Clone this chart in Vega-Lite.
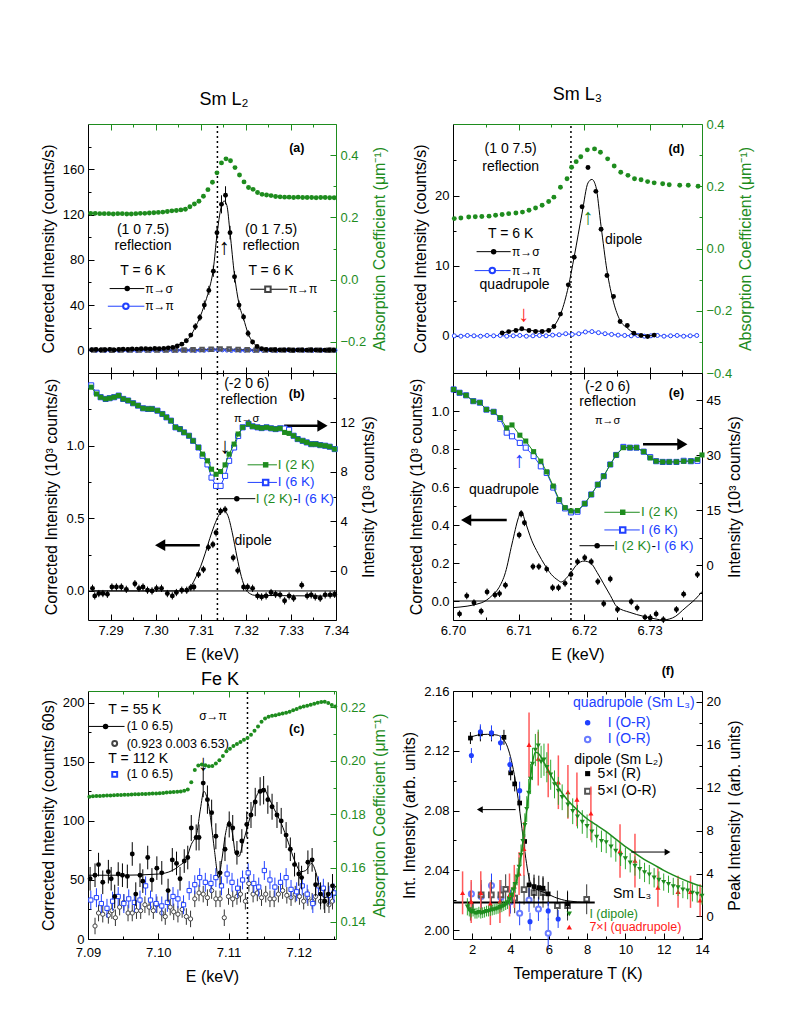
{
"$schema": "https://vega.github.io/schema/vega-lite/v6.json",
"background": "white",
"padding": {"left": 40, "top": 86, "right": 5, "bottom": 5},
"columns": 2,
"spacing": {"row": 0, "column": 117},
"bounds": "flush",
"align": "each",
"config": {
 "view": {"stroke": null},
 "font": "Liberation Sans",
 "point": {"opacity": 1},
 "title": {"font": "Liberation Sans", "fontSize": 18, "fontWeight": "normal", "color": "black"},
 "text": {"font": "Liberation Sans"},
 "axis": {"grid": false, "labelFont": "Liberation Sans", "labelFontSize": 13, "titleFont": "Liberation Sans", "titleFontSize": 16, "titleFontWeight": "normal", "domainColor": "black", "tickColor": "black", "labelColor": "black", "titleColor": "black", "labelPadding": 10, "labelFlush": false, "labelOverlap": false, "titlePadding": 6}
},
"concat": [
{
 "width": 248, "height": 249,
 "title": {"text": "Sm L₂", "offset": 14, "dx": 12},
 "resolve": {"scale": {"y": "independent"}, "axis": {"x": "independent", "y": "independent"}},
 "layer": [
  {
   "encoding": {
    "x": {"field": "x", "type": "quantitative", "scale": {"domain": [7.285, 7.34], "nice": false}, "axis": {"orient": "bottom", "values": [7.29,7.295,7.3,7.305,7.31,7.315,7.32,7.325,7.33,7.335,7.34], "labels": false, "title": null, "tickSize": {"condition": {"test": "abs(datum.value/0.01 - round(datum.value/0.01)) < 0.001", "value": -6}, "value": -3}}},
    "y": {"field": "y", "type": "quantitative", "scale": {"domain": [-20, 200], "nice": false}, "axis": {"orient": "left", "values": [0,20,40,60,80,100,120,140,160,180], "title": "Corrected Intensity (counts/s)", "labelExpr": "abs(datum.value/40 - round(datum.value/40)) < 0.001 ? datum.label : ''", "tickSize": {"condition": {"test": "abs(datum.value/40 - round(datum.value/40)) < 0.001", "value": -6}, "value": -3}}}
   },
   "layer": [
    {"data": {"values": [{"x": 7.3137, "y": -20, "y2": 200}]}, "mark": {"type": "rule", "color": "black", "strokeDash": [2, 3], "strokeWidth": 1.5}, "encoding": {"y2": {"field": "y2"}}},
    {"data": {"values": [{"x":7.2858,"y":0.3},{"x":7.2868,"y":-0.2},{"x":7.2878,"y":0.1},{"x":7.2888,"y":-0.3},{"x":7.2898,"y":0.2},{"x":7.2908,"y":0},{"x":7.2918,"y":-0.2},{"x":7.2928,"y":0.3},{"x":7.2938,"y":-0.1},{"x":7.2948,"y":0.2},{"x":7.2958,"y":-0.3},{"x":7.2968,"y":0.1},{"x":7.2978,"y":0},{"x":7.2988,"y":-0.2},{"x":7.2998,"y":0.2},{"x":7.3008,"y":0.1},{"x":7.3018,"y":-0.1},{"x":7.3028,"y":0.3},{"x":7.3038,"y":-0.2},{"x":7.3048,"y":0},{"x":7.3058,"y":0.2},{"x":7.3068,"y":-0.1},{"x":7.3078,"y":0.1},{"x":7.3088,"y":-0.3},{"x":7.3098,"y":0.2},{"x":7.3108,"y":0},{"x":7.3118,"y":0.4},{"x":7.3128,"y":0.6},{"x":7.3138,"y":0.5},{"x":7.3148,"y":0.3},{"x":7.3158,"y":0.1},{"x":7.3168,"y":-0.2},{"x":7.3178,"y":0.2},{"x":7.3188,"y":-0.1},{"x":7.3198,"y":0},{"x":7.3208,"y":0.3},{"x":7.3218,"y":-0.2},{"x":7.3228,"y":0.1},{"x":7.3238,"y":-0.1},{"x":7.3248,"y":0.2},{"x":7.3258,"y":0},{"x":7.3268,"y":-0.3},{"x":7.3278,"y":0.2},{"x":7.3288,"y":0.1},{"x":7.3298,"y":-0.2},{"x":7.3308,"y":0},{"x":7.3318,"y":0.3},{"x":7.3328,"y":-0.1},{"x":7.3338,"y":0.1},{"x":7.3348,"y":-0.2},{"x":7.3358,"y":0.2},{"x":7.3368,"y":0},{"x":7.3378,"y":-0.1},{"x":7.3388,"y":0.1},{"x":7.3398,"y":0}]}, "layer": [
      {"mark": {"type": "line", "color": "#2040ff", "strokeWidth": 1}},
      {"mark": {"type": "point", "shape": "circle", "color": "#2040ff", "size": 14, "strokeWidth": 1}}
    ]},
    {"data": {"values": [{"x":7.2863,"y":0.2},{"x":7.2883,"y":0.3},{"x":7.2903,"y":0.1},{"x":7.2923,"y":0.2},{"x":7.2943,"y":0.3},{"x":7.2963,"y":0.2},{"x":7.2983,"y":0.4},{"x":7.3003,"y":0.3},{"x":7.3023,"y":0.2},{"x":7.3043,"y":0.3},{"x":7.3063,"y":0.4},{"x":7.3083,"y":0.5},{"x":7.3103,"y":0.7},{"x":7.3123,"y":1.0},{"x":7.3143,"y":1.3},{"x":7.3163,"y":1.2},{"x":7.3183,"y":0.8},{"x":7.3203,"y":0.5},{"x":7.3223,"y":0.3},{"x":7.3243,"y":0.2},{"x":7.3263,"y":0.3},{"x":7.3283,"y":0.2},{"x":7.3303,"y":0.1},{"x":7.3323,"y":0.2},{"x":7.3343,"y":0.3},{"x":7.3363,"y":0.2},{"x":7.3383,"y":0.1},{"x":7.3393,"y":0.2}]}, "layer": [
      {"mark": {"type": "line", "color": "#333333", "strokeWidth": 0.8}},
      {"mark": {"type": "point", "shape": "square", "color": "#555555", "size": 12}}
    ]},
    {"data": {"values": [{"x":7.2858,"y":0.5,"e":1},{"x":7.2868,"y":0.8,"e":1},{"x":7.2878,"y":0.3,"e":1},{"x":7.2888,"y":0.6,"e":1},{"x":7.2898,"y":0.9,"e":1},{"x":7.2908,"y":0.4,"e":1},{"x":7.2918,"y":0.7,"e":1},{"x":7.2928,"y":1.0,"e":1},{"x":7.2938,"y":0.8,"e":1},{"x":7.2948,"y":1.2,"e":1},{"x":7.2958,"y":1.1,"e":1},{"x":7.2968,"y":1.4,"e":1},{"x":7.2978,"y":1.5,"e":1},{"x":7.2988,"y":1.3,"e":1},{"x":7.2998,"y":1.6,"e":1},{"x":7.3008,"y":1.4,"e":1},{"x":7.3018,"y":1.8,"e":1},{"x":7.3028,"y":2.2,"e":1},{"x":7.3038,"y":2.6,"e":1.2},{"x":7.3048,"y":3.8,"e":1.5},{"x":7.3058,"y":5.5,"e":1.5},{"x":7.3068,"y":8.5,"e":2},{"x":7.3078,"y":13.5,"e":2},{"x":7.3088,"y":21,"e":3},{"x":7.3098,"y":29,"e":3},{"x":7.3108,"y":40,"e":4},{"x":7.3118,"y":53,"e":4},{"x":7.3128,"y":70,"e":5},{"x":7.3136,"y":104,"e":6},{"x":7.3146,"y":129,"e":8},{"x":7.3155,"y":137,"e":8},{"x":7.3165,"y":104,"e":6},{"x":7.3175,"y":65,"e":5},{"x":7.3185,"y":40,"e":4},{"x":7.3195,"y":29.5,"e":3},{"x":7.3205,"y":15,"e":3},{"x":7.3215,"y":7.4,"e":2},{"x":7.3225,"y":3.5,"e":1.5},{"x":7.3235,"y":1.5,"e":1},{"x":7.3245,"y":0.8,"e":1},{"x":7.3255,"y":0.5,"e":1},{"x":7.3265,"y":0.6,"e":1},{"x":7.3275,"y":0.3,"e":1},{"x":7.3285,"y":0.4,"e":1},{"x":7.3295,"y":0.5,"e":1},{"x":7.3305,"y":0.2,"e":1},{"x":7.3315,"y":0.3,"e":1},{"x":7.3325,"y":0.4,"e":1},{"x":7.3335,"y":0.2,"e":1},{"x":7.3345,"y":0.3,"e":1},{"x":7.3355,"y":0.3,"e":1},{"x":7.3365,"y":0.2,"e":1},{"x":7.3375,"y":0.2,"e":1},{"x":7.3385,"y":0.3,"e":1},{"x":7.3395,"y":0.2,"e":1}]}, "layer": [
      {"mark": {"type": "errorbar", "color": "black"}, "encoding": {"yError": {"field": "e"}}},
      {"mark": {"type": "point", "shape": "circle", "filled": true, "color": "black", "size": 24}}
    ]},
    {"data": {"values": [{"x":7.2858,"y":0.3},{"x":7.300,"y":1.2},{"x":7.302,"y":1.9},{"x":7.304,"y":3.3},{"x":7.3055,"y":5.5},{"x":7.3068,"y":8.5},{"x":7.3078,"y":13},{"x":7.3088,"y":20.5},{"x":7.3098,"y":29},{"x":7.3108,"y":40},{"x":7.3118,"y":53},{"x":7.3128,"y":72},{"x":7.3136,"y":102},{"x":7.3145,"y":126},{"x":7.3152,"y":132},{"x":7.3158,"y":128},{"x":7.3165,"y":104},{"x":7.3175,"y":66},{"x":7.3185,"y":41},{"x":7.3195,"y":28},{"x":7.3205,"y":15},{"x":7.3215,"y":7.4},{"x":7.3225,"y":3.5},{"x":7.3235,"y":1.5},{"x":7.325,"y":0.6},{"x":7.34,"y":0.2}]}, "mark": {"type": "line", "color": "black", "strokeWidth": 1, "interpolate": "monotone"}},
    {"data": {"values": [{"x":7.2898,"x2":7.2975,"y":54.6},{"x":7.3210,"x2":7.3293,"y":54}]}, "mark": {"type": "rule", "color": "black"}, "encoding": {"x2": {"field": "x2"}}},
    {"data": {"values": [{"x":7.2894,"x2":7.2975,"y":39}]}, "mark": {"type": "rule", "color": "#2040ff"}, "encoding": {"x2": {"field": "x2"}}},
    {"data": {"values": [{"x":7.2937,"y":54.6}]}, "mark": {"type": "point", "shape": "circle", "filled": true, "color": "black", "size": 30}},
    {"data": {"values": [{"x":7.2934,"y":39}]}, "mark": {"type": "point", "shape": "circle", "filled": true, "fill": "white", "stroke": "#2040ff", "size": 30}},
    {"data": {"values": [{"x":7.3249,"y":54}]}, "mark": {"type": "point", "shape": "square", "filled": true, "fill": "white", "stroke": "#444444", "size": 30}},
    {"data": {"values": [{"x":7.2972,"y":106,"t":"(1 0 7.5)"},{"x":7.2972,"y":92,"t":"reflection"},{"x":7.2972,"y":70,"t":"T = 6 K"},{"x":7.3256,"y":106,"t":"(0 1 7.5)"},{"x":7.3256,"y":92,"t":"reflection"},{"x":7.3256,"y":70,"t":"T = 6 K"}]}, "mark": {"type": "text", "fontSize": 14, "align": "center", "baseline": "middle", "color": "black"}, "encoding": {"text": {"field": "t"}}},
    {"data": {"values": [{"x":7.2977,"y":54.6,"t":"π→σ"},{"x":7.2977,"y":39,"t":"π→π"},{"x":7.3295,"y":54,"t":"π→π"}]}, "mark": {"type": "text", "fontSize": 12, "align": "left", "baseline": "middle", "color": "black"}, "encoding": {"text": {"field": "t"}}},
    {"data": {"values": [{"x":7.3313,"y":179,"t":"(a)"}]}, "mark": {"type": "text", "fontSize": 12.5, "fontWeight": "bold", "align": "center", "baseline": "middle", "color": "black"}, "encoding": {"text": {"field": "t"}}},
    {"data": {"values": [{"x":7.3152,"y":91,"t":"↑"}]}, "mark": {"type": "text", "fontSize": 22, "align": "center", "baseline": "middle", "color": "black"}, "encoding": {"text": {"field": "t"}}}
   ]
  },
  {
   "encoding": {
    "x": {"field": "x", "type": "quantitative", "scale": {"domain": [7.285, 7.34], "nice": false}, "axis": {"orient": "top", "values": [7.29,7.295,7.3,7.305,7.31,7.315,7.32,7.325,7.33,7.335,7.34], "labels": false, "title": null, "domainColor": "#1e8c1e", "tickColor": "#1e8c1e", "tickSize": {"condition": {"test": "abs(datum.value/0.01 - round(datum.value/0.01)) < 0.001", "value": -6}, "value": -3}}},
    "y": {"field": "y", "type": "quantitative", "scale": {"domain": [-0.3, 0.5], "nice": false}, "axis": {"orient": "right", "values": [-0.2,-0.1,0,0.1,0.2,0.3,0.4], "format": ".1f", "title": "Absorption Coefficient (μm⁻¹)", "titleAngle": -90, "titleBaseline": "top", "labelExpr": "abs(datum.value/0.2 - round(datum.value/0.2)) < 0.001 ? datum.label : ''", "tickSize": {"condition": {"test": "abs(datum.value/0.2 - round(datum.value/0.2)) < 0.001", "value": -6}, "value": -3}, "domainColor": "#1e8c1e", "tickColor": "#1e8c1e", "labelColor": "#1e8c1e", "titleColor": "#1e8c1e"}}
   },
   "layer": [
    {"data": {"values": [{"x":7.2856,"y":0.213},{"x":7.2866,"y":0.213},{"x":7.2876,"y":0.212},{"x":7.2886,"y":0.212},{"x":7.2896,"y":0.212},{"x":7.2906,"y":0.211},{"x":7.2916,"y":0.212},{"x":7.2926,"y":0.212},{"x":7.2936,"y":0.211},{"x":7.2946,"y":0.211},{"x":7.2956,"y":0.212},{"x":7.2966,"y":0.213},{"x":7.2976,"y":0.213},{"x":7.2986,"y":0.214},{"x":7.2996,"y":0.215},{"x":7.3006,"y":0.216},{"x":7.3016,"y":0.217},{"x":7.3026,"y":0.219},{"x":7.3036,"y":0.221},{"x":7.3046,"y":0.222},{"x":7.3056,"y":0.224},{"x":7.3066,"y":0.226},{"x":7.3076,"y":0.234},{"x":7.3086,"y":0.243},{"x":7.3096,"y":0.252},{"x":7.3106,"y":0.268},{"x":7.3116,"y":0.289},{"x":7.3126,"y":0.313},{"x":7.3136,"y":0.343},{"x":7.3146,"y":0.375},{"x":7.3156,"y":0.388},{"x":7.3166,"y":0.382},{"x":7.3176,"y":0.36},{"x":7.3186,"y":0.336},{"x":7.3196,"y":0.314},{"x":7.3206,"y":0.296},{"x":7.3216,"y":0.29},{"x":7.3226,"y":0.28},{"x":7.3236,"y":0.274},{"x":7.3246,"y":0.272},{"x":7.3256,"y":0.27},{"x":7.3266,"y":0.267},{"x":7.3276,"y":0.266},{"x":7.3286,"y":0.265},{"x":7.3296,"y":0.265},{"x":7.3306,"y":0.264},{"x":7.3316,"y":0.265},{"x":7.3326,"y":0.264},{"x":7.3336,"y":0.264},{"x":7.3346,"y":0.264},{"x":7.3356,"y":0.263},{"x":7.3366,"y":0.264},{"x":7.3376,"y":0.264},{"x":7.3386,"y":0.263},{"x":7.3396,"y":0.263}]}, "mark": {"type": "point", "shape": "circle", "filled": true, "color": "#1e8c1e", "size": 24}}
   ]
  }
 ]
},
{
 "width": 249, "height": 249,
 "title": {"text": "Sm L₃", "offset": 14},
 "resolve": {"scale": {"y": "independent"}, "axis": {"x": "independent", "y": "independent"}},
 "layer": [
  {
   "encoding": {
    "x": {"field": "x", "type": "quantitative", "scale": {"domain": [6.7, 6.738], "nice": false}, "axis": {"orient": "bottom", "values": [6.705,6.71,6.715,6.72,6.725,6.73,6.735], "labels": false, "title": null, "tickSize": {"condition": {"test": "abs(datum.value/0.01 - round(datum.value/0.01)) < 0.001", "value": -6}, "value": -3}}},
    "y": {"field": "y", "type": "quantitative", "scale": {"domain": [-5.3, 30.2], "nice": false}, "axis": {"orient": "left", "values": [0,5,10,15,20,25], "title": "Corrected Intensity (counts/s)", "labelExpr": "abs(datum.value/10 - round(datum.value/10)) < 0.001 ? datum.label : ''", "tickSize": {"condition": {"test": "abs(datum.value/10 - round(datum.value/10)) < 0.001", "value": -6}, "value": -3}}}
   },
   "layer": [
    {"data": {"values": [{"x": 6.718, "y": -5.3, "y2": 30.2}]}, "mark": {"type": "rule", "color": "black", "strokeDash": [2, 3], "strokeWidth": 1.5}, "encoding": {"y2": {"field": "y2"}}},
    {"data": {"values": [{"x":6.7002,"y":0.0,"e":0.25},{"x":6.7012,"y":-0.05,"e":0.25},{"x":6.7022,"y":0.05,"e":0.25},{"x":6.7032,"y":0.0,"e":0.25},{"x":6.7042,"y":-0.05,"e":0.25},{"x":6.7052,"y":0.05,"e":0.25},{"x":6.7062,"y":0.0,"e":0.25},{"x":6.7072,"y":0.05,"e":0.25},{"x":6.7082,"y":-0.05,"e":0.25},{"x":6.7092,"y":0.0,"e":0.25},{"x":6.7102,"y":0.05,"e":0.25},{"x":6.7112,"y":-0.05,"e":0.25},{"x":6.7122,"y":0.0,"e":0.25},{"x":6.7132,"y":0.05,"e":0.25},{"x":6.7142,"y":0.0,"e":0.25},{"x":6.7152,"y":0.1,"e":0.25},{"x":6.7162,"y":0.15,"e":0.25},{"x":6.7172,"y":0.3,"e":0.25},{"x":6.7182,"y":0.2,"e":0.25},{"x":6.7192,"y":0.3,"e":0.25},{"x":6.7202,"y":0.55,"e":0.25},{"x":6.7212,"y":0.6,"e":0.25},{"x":6.7222,"y":0.45,"e":0.25},{"x":6.7232,"y":0.3,"e":0.25},{"x":6.7242,"y":0.2,"e":0.25},{"x":6.7252,"y":0.1,"e":0.25},{"x":6.7262,"y":0.05,"e":0.25},{"x":6.7272,"y":0.0,"e":0.25},{"x":6.7282,"y":0.05,"e":0.25},{"x":6.7292,"y":-0.05,"e":0.25},{"x":6.7302,"y":0.0,"e":0.25},{"x":6.7312,"y":0.05,"e":0.25},{"x":6.7322,"y":-0.05,"e":0.25},{"x":6.7332,"y":0.0,"e":0.25},{"x":6.7342,"y":0.05,"e":0.25},{"x":6.7352,"y":-0.05,"e":0.25},{"x":6.7362,"y":0.0,"e":0.25},{"x":6.7372,"y":0.05,"e":0.25}]}, "layer": [
      {"mark": {"type": "errorbar", "color": "#2040ff"}, "encoding": {"yError": {"field": "e"}}},
      {"mark": {"type": "line", "color": "#2040ff", "strokeWidth": 1}},
      {"mark": {"type": "point", "shape": "circle", "filled": true, "fill": "white", "stroke": "#2040ff", "size": 16, "strokeWidth": 1}}
    ]},
    {"data": {"values": [{"x":6.7075,"y":0.4},{"x":6.709,"y":0.7},{"x":6.7105,"y":0.9},{"x":6.712,"y":0.75},{"x":6.7135,"y":0.65},{"x":6.7146,"y":0.8},{"x":6.7155,"y":1.5},{"x":6.7165,"y":3.3},{"x":6.7176,"y":7.0},{"x":6.7185,"y":11.3},{"x":6.7197,"y":17.5},{"x":6.7206,"y":21.8},{"x":6.7212,"y":22.3},{"x":6.7218,"y":21.3},{"x":6.7226,"y":15.6},{"x":6.7235,"y":9.3},{"x":6.7245,"y":4.8},{"x":6.7255,"y":2.2},{"x":6.7266,"y":1.1},{"x":6.7276,"y":0.4},{"x":6.7287,"y":0.05},{"x":6.7307,"y":0}]}, "mark": {"type": "line", "color": "black", "strokeWidth": 1, "interpolate": "monotone"}},
    {"data": {"values": [{"x":6.7075,"y":0.4},{"x":6.7085,"y":0.6},{"x":6.7096,"y":0.76},{"x":6.7105,"y":1.0},{"x":6.7116,"y":0.76},{"x":6.7126,"y":0.62},{"x":6.7136,"y":0.62},{"x":6.7146,"y":0.76},{"x":6.7154,"y":1.33},{"x":6.7164,"y":3.1},{"x":6.7176,"y":7.27},{"x":6.7185,"y":11.2},{"x":6.7197,"y":18.4},{"x":6.7206,"y":24.0},{"x":6.7218,"y":20.6},{"x":6.7226,"y":15.2},{"x":6.7235,"y":8.6},{"x":6.7245,"y":5.6},{"x":6.7255,"y":2.04},{"x":6.7266,"y":1.47},{"x":6.7276,"y":0.38},{"x":6.7287,"y":0.05},{"x":6.7297,"y":-0.1},{"x":6.7307,"y":0.1}]}, "mark": {"type": "point", "shape": "circle", "filled": true, "color": "black", "size": 24}},
    {"data": {"values": [{"x":6.7036,"x2":6.7088,"y":12.0}]}, "mark": {"type": "rule", "color": "black"}, "encoding": {"x2": {"field": "x2"}}},
    {"data": {"values": [{"x":6.7033,"x2":6.7088,"y":9.3}]}, "mark": {"type": "rule", "color": "#2040ff"}, "encoding": {"x2": {"field": "x2"}}},
    {"data": {"values": [{"x":6.7062,"y":12.0}]}, "mark": {"type": "point", "shape": "circle", "filled": true, "color": "black", "size": 30}},
    {"data": {"values": [{"x":6.706,"y":9.3}]}, "mark": {"type": "point", "shape": "circle", "filled": true, "fill": "white", "stroke": "#2040ff", "size": 30}},
    {"data": {"values": [{"x":6.7088,"y":26.6,"t":"(1 0 7.5)"},{"x":6.7088,"y":24.1,"t":"reflection"},{"x":6.7088,"y":14.5,"t":"T = 6 K"},{"x":6.7094,"y":7.2,"t":"quadrupole"}]}, "mark": {"type": "text", "fontSize": 14, "align": "center", "baseline": "middle", "color": "black"}, "encoding": {"text": {"field": "t"}}},
    {"data": {"values": [{"x":6.7232,"y":13.7,"t":"dipole"}]}, "mark": {"type": "text", "fontSize": 14, "align": "left", "baseline": "middle", "color": "black"}, "encoding": {"text": {"field": "t"}}},
    {"data": {"values": [{"x":6.709,"y":12.0,"t":"π→σ"},{"x":6.709,"y":9.3,"t":"π→π"}]}, "mark": {"type": "text", "fontSize": 12, "align": "left", "baseline": "middle", "color": "black"}, "encoding": {"text": {"field": "t"}}},
    {"data": {"values": [{"x":6.7341,"y":26.7,"t":"(d)"}]}, "mark": {"type": "text", "fontSize": 12.5, "fontWeight": "bold", "align": "center", "baseline": "middle", "color": "black"}, "encoding": {"text": {"field": "t"}}},
    {"data": {"values": [{"x":6.7206,"y":16.9,"t":"↑"}]}, "mark": {"type": "text", "fontSize": 22, "align": "center", "baseline": "middle", "color": "#1e8c1e"}, "encoding": {"text": {"field": "t"}}},
    {"data": {"values": [{"x":6.7108,"y":3.1,"t":"↓"}]}, "mark": {"type": "text", "fontSize": 22, "align": "center", "baseline": "middle", "color": "#ff1a1a"}, "encoding": {"text": {"field": "t"}}}
   ]
  },
  {
   "encoding": {
    "x": {"field": "x", "type": "quantitative", "scale": {"domain": [6.7, 6.738], "nice": false}, "axis": {"orient": "top", "values": [6.705,6.71,6.715,6.72,6.725,6.73,6.735], "labels": false, "title": null, "domainColor": "#1e8c1e", "tickColor": "#1e8c1e", "tickSize": {"condition": {"test": "abs(datum.value/0.01 - round(datum.value/0.01)) < 0.001", "value": -6}, "value": -3}}},
    "y": {"field": "y", "type": "quantitative", "scale": {"domain": [-0.4, 0.4], "nice": false}, "axis": {"orient": "right", "values": [-0.4,-0.3,-0.2,-0.1,0,0.1,0.2,0.3,0.4], "format": ".1f", "title": "Absorption Coefficient (μm⁻¹)", "titleAngle": -90, "titleBaseline": "top", "labelExpr": "abs(datum.value/0.2 - round(datum.value/0.2)) < 0.001 ? datum.label : ''", "tickSize": {"condition": {"test": "abs(datum.value/0.2 - round(datum.value/0.2)) < 0.001", "value": -6}, "value": -3}, "domainColor": "#1e8c1e", "tickColor": "#1e8c1e", "labelColor": "#1e8c1e", "titleColor": "#1e8c1e"}}
   },
   "layer": [
    {"data": {"values": [{"x":6.7002,"y":0.096},{"x":6.7012,"y":0.098},{"x":6.7024,"y":0.101},{"x":6.7034,"y":0.102},{"x":6.7044,"y":0.103},{"x":6.7055,"y":0.104},{"x":6.7065,"y":0.107},{"x":6.7075,"y":0.109},{"x":6.7085,"y":0.112},{"x":6.7096,"y":0.114},{"x":6.7106,"y":0.117},{"x":6.7116,"y":0.123},{"x":6.7126,"y":0.13},{"x":6.7136,"y":0.139},{"x":6.7146,"y":0.151},{"x":6.7154,"y":0.165},{"x":6.7164,"y":0.197},{"x":6.7174,"y":0.224},{"x":6.7181,"y":0.261},{"x":6.7188,"y":0.279},{"x":6.7195,"y":0.295},{"x":6.7205,"y":0.317},{"x":6.7216,"y":0.32},{"x":6.7225,"y":0.309},{"x":6.7236,"y":0.288},{"x":6.7246,"y":0.265},{"x":6.7256,"y":0.245},{"x":6.7267,"y":0.235},{"x":6.7277,"y":0.224},{"x":6.7287,"y":0.221},{"x":6.7297,"y":0.215},{"x":6.7307,"y":0.211},{"x":6.732,"y":0.208},{"x":6.733,"y":0.205},{"x":6.7346,"y":0.203},{"x":6.7359,"y":0.203},{"x":6.7374,"y":0.2}]}, "mark": {"type": "point", "shape": "circle", "filled": true, "color": "#1e8c1e", "size": 24}}
   ]
  }
 ]
},
{
 "width": 248, "height": 247,
 "resolve": {"scale": {"y": "independent"}, "axis": {"x": "independent", "y": "independent"}},
 "layer": [
  {
   "encoding": {
    "x": {"field": "x", "type": "quantitative", "scale": {"domain": [7.285, 7.34], "nice": false}, "axis": {"orient": "bottom", "values": [7.29,7.295,7.3,7.305,7.31,7.315,7.32,7.325,7.33,7.335,7.34], "format": ".2f", "title": "E (keV)", "labelExpr": "abs(datum.value/0.01 - round(datum.value/0.01)) < 0.001 ? datum.label : ''", "tickSize": {"condition": {"test": "abs(datum.value/0.01 - round(datum.value/0.01)) < 0.001", "value": -6}, "value": -3}}},
    "y": {"field": "y", "type": "quantitative", "scale": {"domain": [-0.2, 1.5], "nice": false}, "axis": {"orient": "left", "values": [0,0.25,0.5,0.75,1.0,1.25], "format": ".1f", "title": "Corrected Intensity (10³ counts/s)", "labelExpr": "abs(datum.value/0.5 - round(datum.value/0.5)) < 0.001 ? datum.label : ''", "tickSize": {"condition": {"test": "abs(datum.value/0.5 - round(datum.value/0.5)) < 0.001", "value": -6}, "value": -3}}}
   },
   "layer": [
    {"data": {"values": [{"x": 7.3137, "y": -0.2, "y2": 1.5}]}, "mark": {"type": "rule", "color": "black", "strokeDash": [2, 3], "strokeWidth": 1.5}, "encoding": {"y2": {"field": "y2"}}},
    {"data": {"values": [{"x": 7.285, "x2": 7.34, "y": 0}]}, "mark": {"type": "rule", "color": "black", "strokeWidth": 1}, "encoding": {"x2": {"field": "x2"}}},
    {"data": {"values": [{"x":7.2858,"y":0.0},{"x":7.307,"y":0.0},{"x":7.308,"y":0.04},{"x":7.309,"y":0.1},{"x":7.310,"y":0.17},{"x":7.311,"y":0.26},{"x":7.312,"y":0.36},{"x":7.313,"y":0.45},{"x":7.314,"y":0.52},{"x":7.315,"y":0.555},{"x":7.316,"y":0.52},{"x":7.317,"y":0.4},{"x":7.318,"y":0.24},{"x":7.319,"y":0.1},{"x":7.320,"y":0.01},{"x":7.321,"y":-0.02},{"x":7.322,"y":-0.03},{"x":7.34,"y":-0.035}]}, "mark": {"type": "line", "color": "black", "strokeWidth": 1, "interpolate": "monotone"}},
    {"data": {"values": [{"x":7.2860,"y":0.018,"e":0.025},{"x":7.2865,"y":-0.034,"e":0.025},{"x":7.2874,"y":-0.018,"e":0.025},{"x":7.2883,"y":-0.018,"e":0.025},{"x":7.2893,"y":-0.023,"e":0.025},{"x":7.2903,"y":0.027,"e":0.025},{"x":7.2913,"y":0.027,"e":0.025},{"x":7.2924,"y":0.027,"e":0.025},{"x":7.2935,"y":0.011,"e":0.025},{"x":7.2954,"y":0.05,"e":0.025},{"x":7.2963,"y":0.018,"e":0.025},{"x":7.2972,"y":0.027,"e":0.025},{"x":7.2982,"y":0.005,"e":0.025},{"x":7.2992,"y":0.0,"e":0.025},{"x":7.3002,"y":0.018,"e":0.025},{"x":7.3013,"y":0.018,"e":0.025},{"x":7.3026,"y":-0.018,"e":0.025},{"x":7.3037,"y":-0.034,"e":0.025},{"x":7.3046,"y":-0.011,"e":0.025},{"x":7.3058,"y":0.005,"e":0.025},{"x":7.3069,"y":0.005,"e":0.025},{"x":7.3078,"y":0.023,"e":0.025},{"x":7.3085,"y":0.027,"e":0.025},{"x":7.3095,"y":0.114,"e":0.025},{"x":7.3106,"y":0.148,"e":0.025},{"x":7.3117,"y":0.30,"e":0.025},{"x":7.3127,"y":0.32,"e":0.025},{"x":7.3134,"y":0.40,"e":0.025},{"x":7.3144,"y":0.548,"e":0.025},{"x":7.3154,"y":0.56,"e":0.025},{"x":7.3172,"y":0.228,"e":0.025},{"x":7.3182,"y":0.14,"e":0.025},{"x":7.3195,"y":0.027,"e":0.025},{"x":7.3204,"y":0.027,"e":0.025},{"x":7.3215,"y":0.018,"e":0.025},{"x":7.3226,"y":-0.034,"e":0.025},{"x":7.3235,"y":-0.041,"e":0.025},{"x":7.3245,"y":-0.034,"e":0.025},{"x":7.3256,"y":-0.011,"e":0.025},{"x":7.3266,"y":-0.023,"e":0.025},{"x":7.3276,"y":-0.027,"e":0.025},{"x":7.3286,"y":-0.068,"e":0.025},{"x":7.3296,"y":-0.034,"e":0.025},{"x":7.3306,"y":-0.05,"e":0.025},{"x":7.3324,"y":0.04,"e":0.025},{"x":7.3336,"y":-0.034,"e":0.025},{"x":7.3345,"y":-0.027,"e":0.025},{"x":7.3354,"y":-0.041,"e":0.025},{"x":7.3365,"y":-0.05,"e":0.025},{"x":7.3376,"y":-0.027,"e":0.025},{"x":7.3387,"y":-0.027,"e":0.025},{"x":7.3397,"y":-0.023,"e":0.025}]}, "layer": [
      {"mark": {"type": "errorbar", "color": "black"}, "encoding": {"yError": {"field": "e"}}},
      {"mark": {"type": "point", "shape": "circle", "filled": true, "color": "black", "size": 24}}
    ]},
    {"data": {"values": [{"x":7.3285,"x2":7.3368,"y":1.137}]}, "mark": {"type": "rule", "color": "black", "strokeWidth": 2.5}, "encoding": {"x2": {"field": "x2"}}},
    {"data": {"values": [{"x":7.3370,"y":1.137}]}, "mark": {"type": "point", "shape": "triangle-right", "filled": true, "color": "black", "size": 140}},
    {"data": {"values": [{"x":7.3012,"x2":7.3098,"y":0.315}]}, "mark": {"type": "rule", "color": "black", "strokeWidth": 2.5}, "encoding": {"x2": {"field": "x2"}}},
    {"data": {"values": [{"x":7.3010,"y":0.315}]}, "mark": {"type": "point", "shape": "triangle-left", "filled": true, "color": "black", "size": 140}},
    {"data": {"values": [{"x":7.3204,"x2":7.3269,"y":0.868}]}, "mark": {"type": "rule", "color": "#1e8c1e"}, "encoding": {"x2": {"field": "x2"}}},
    {"data": {"values": [{"x":7.3204,"x2":7.3269,"y":0.747}]}, "mark": {"type": "rule", "color": "#2040ff"}, "encoding": {"x2": {"field": "x2"}}},
    {"data": {"values": [{"x":7.3139,"x2":7.3221,"y":0.635}]}, "mark": {"type": "rule", "color": "black"}, "encoding": {"x2": {"field": "x2"}}},
    {"data": {"values": [{"x":7.3244,"y":0.868}]}, "mark": {"type": "point", "shape": "square", "filled": true, "color": "#1e8c1e", "size": 30}},
    {"data": {"values": [{"x":7.3244,"y":0.747}]}, "mark": {"type": "point", "shape": "square", "filled": true, "fill": "white", "stroke": "#2040ff", "size": 30}},
    {"data": {"values": [{"x":7.318,"y":0.635}]}, "mark": {"type": "point", "shape": "circle", "filled": true, "color": "black", "size": 30}},
    {"data": {"values": [{"x":7.3271,"y":0.868,"t":"I (2 K)"},{"x":7.3222,"y":0.635,"t":"I (2 K)"}]}, "mark": {"type": "text", "fontSize": 13.5, "align": "left", "baseline": "middle", "color": "#1e8c1e"}, "encoding": {"text": {"field": "t"}}},
    {"data": {"values": [{"x":7.3271,"y":0.747,"t":"I (6 K)"},{"x":7.3314,"y":0.635,"t":"I (6 K)"}]}, "mark": {"type": "text", "fontSize": 13.5, "align": "left", "baseline": "middle", "color": "#2040ff"}, "encoding": {"text": {"field": "t"}}},
    {"data": {"values": [{"x":7.3305,"y":0.635,"t":"-"}]}, "mark": {"type": "text", "fontSize": 13.5, "align": "left", "baseline": "middle", "color": "black"}, "encoding": {"text": {"field": "t"}}},
    {"data": {"values": [{"x":7.3202,"y":1.427,"t":"(-2 0 6)"},{"x":7.3207,"y":1.313,"t":"reflection"}]}, "mark": {"type": "text", "fontSize": 14, "align": "center", "baseline": "middle", "color": "black"}, "encoding": {"text": {"field": "t"}}},
    {"data": {"values": [{"x":7.3175,"y":0.347,"t":"dipole"}]}, "mark": {"type": "text", "fontSize": 14, "align": "left", "baseline": "middle", "color": "black"}, "encoding": {"text": {"field": "t"}}},
    {"data": {"values": [{"x":7.3202,"y":1.18,"t":"π→σ"}]}, "mark": {"type": "text", "fontSize": 11, "align": "center", "baseline": "middle", "color": "black"}, "encoding": {"text": {"field": "t"}}},
    {"data": {"values": [{"x":7.3313,"y":1.358,"t":"(b)"}]}, "mark": {"type": "text", "fontSize": 12.5, "fontWeight": "bold", "align": "center", "baseline": "middle", "color": "black"}, "encoding": {"text": {"field": "t"}}},
    {"data": {"values": [{"x":7.3154,"y":1.0,"t":"↓"}]}, "mark": {"type": "text", "fontSize": 22, "align": "center", "baseline": "middle", "color": "black"}, "encoding": {"text": {"field": "t"}}}
   ]
  },
  {
   "encoding": {
    "x": {"field": "x", "type": "quantitative", "scale": {"domain": [7.285, 7.34], "nice": false}, "axis": {"orient": "top", "values": [7.29,7.295,7.3,7.305,7.31,7.315,7.32,7.325,7.33,7.335,7.34], "labels": false, "title": null, "tickSize": {"condition": {"test": "abs(datum.value/0.01 - round(datum.value/0.01)) < 0.001", "value": -6}, "value": -3}}},
    "y": {"field": "y", "type": "quantitative", "scale": {"domain": [-4, 16], "nice": false}, "axis": {"orient": "right", "values": [-2,0,2,4,6,8,10,12,14], "title": "Intensity (10³ counts/s)", "titleAngle": -90, "titleBaseline": "top", "labelExpr": "abs(datum.value/4 - round(datum.value/4)) < 0.001 ? datum.label : ''", "tickSize": {"condition": {"test": "abs(datum.value/4 - round(datum.value/4)) < 0.001", "value": -6}, "value": -3}}}
   },
   "layer": [
    {"data": {"values": [{"x":7.2857,"y":15.0},{"x":7.2869,"y":14.4},{"x":7.2878,"y":14.04},{"x":7.2889,"y":13.9},{"x":7.2898,"y":13.96},{"x":7.2908,"y":14.04},{"x":7.2918,"y":14.17},{"x":7.2928,"y":13.9},{"x":7.2939,"y":13.77},{"x":7.2950,"y":13.55},{"x":7.2961,"y":13.36},{"x":7.2972,"y":13.14},{"x":7.2983,"y":13.09},{"x":7.2992,"y":13.09},{"x":7.3004,"y":12.95},{"x":7.3015,"y":12.68},{"x":7.3024,"y":12.41},{"x":7.3034,"y":12.14},{"x":7.3044,"y":11.6},{"x":7.3054,"y":11.46},{"x":7.3063,"y":11.19},{"x":7.3074,"y":10.92},{"x":7.3083,"y":10.51},{"x":7.3095,"y":9.97},{"x":7.3104,"y":9.3},{"x":7.3115,"y":8.6},{"x":7.3124,"y":7.53},{"x":7.3134,"y":6.86},{"x":7.3144,"y":6.86},{"x":7.3154,"y":7.67},{"x":7.3163,"y":8.89},{"x":7.3174,"y":9.97},{"x":7.3183,"y":10.9},{"x":7.3193,"y":11.6},{"x":7.3206,"y":11.87},{"x":7.3215,"y":11.68},{"x":7.3226,"y":11.6},{"x":7.3235,"y":11.54},{"x":7.3246,"y":11.6},{"x":7.3256,"y":11.52},{"x":7.3266,"y":11.46},{"x":7.3276,"y":11.52},{"x":7.3286,"y":11.5},{"x":7.3296,"y":11.4},{"x":7.3306,"y":10.92},{"x":7.3315,"y":10.65},{"x":7.3326,"y":10.51},{"x":7.3335,"y":10.38},{"x":7.3345,"y":10.24},{"x":7.3355,"y":10.24},{"x":7.3365,"y":10.16},{"x":7.3376,"y":10.11},{"x":7.3386,"y":10.03},{"x":7.3397,"y":9.84}]}, "layer": [
      {"mark": {"type": "line", "color": "#2040ff", "strokeWidth": 1}},
      {"mark": {"type": "point", "shape": "square", "filled": true, "fill": "white", "stroke": "#2040ff", "size": 26, "strokeWidth": 1}}
    ]},
    {"data": {"values": [{"x":7.2857,"y":14.85},{"x":7.2869,"y":14.3},{"x":7.2878,"y":14.04},{"x":7.2889,"y":13.9},{"x":7.2898,"y":13.96},{"x":7.2908,"y":14.04},{"x":7.2918,"y":14.17},{"x":7.2928,"y":13.9},{"x":7.2939,"y":13.77},{"x":7.2950,"y":13.55},{"x":7.2961,"y":13.36},{"x":7.2972,"y":13.14},{"x":7.2983,"y":13.09},{"x":7.2992,"y":13.09},{"x":7.3004,"y":12.95},{"x":7.3015,"y":12.68},{"x":7.3024,"y":12.41},{"x":7.3034,"y":12.14},{"x":7.3044,"y":11.6},{"x":7.3054,"y":11.46},{"x":7.3063,"y":11.19},{"x":7.3074,"y":10.92},{"x":7.3083,"y":10.51},{"x":7.3095,"y":9.97},{"x":7.3104,"y":9.43},{"x":7.3115,"y":8.89},{"x":7.3124,"y":8.21},{"x":7.3134,"y":7.8},{"x":7.3144,"y":8.02},{"x":7.3154,"y":8.56},{"x":7.3163,"y":9.43},{"x":7.3174,"y":10.24},{"x":7.3183,"y":11.06},{"x":7.3193,"y":11.6},{"x":7.3206,"y":11.87},{"x":7.3215,"y":11.68},{"x":7.3226,"y":11.6},{"x":7.3235,"y":11.54},{"x":7.3246,"y":11.6},{"x":7.3256,"y":11.52},{"x":7.3266,"y":11.46},{"x":7.3276,"y":11.52},{"x":7.3286,"y":11.19},{"x":7.3296,"y":11.11},{"x":7.3306,"y":10.92},{"x":7.3315,"y":10.65},{"x":7.3326,"y":10.51},{"x":7.3335,"y":10.38},{"x":7.3345,"y":10.24},{"x":7.3355,"y":10.24},{"x":7.3365,"y":10.16},{"x":7.3376,"y":10.11},{"x":7.3386,"y":10.03},{"x":7.3397,"y":9.84}]}, "layer": [
      {"mark": {"type": "line", "color": "#1e8c1e", "strokeWidth": 1}},
      {"mark": {"type": "point", "shape": "square", "filled": true, "color": "#1e8c1e", "size": 26}}
    ]}
   ]
  }
 ]
},
{
 "width": 249, "height": 247,
 "resolve": {"scale": {"y": "independent"}, "axis": {"x": "independent", "y": "independent"}},
 "layer": [
  {
   "encoding": {
    "x": {"field": "x", "type": "quantitative", "scale": {"domain": [6.7, 6.738], "nice": false}, "axis": {"orient": "bottom", "values": [6.7,6.705,6.71,6.715,6.72,6.725,6.73,6.735], "format": ".2f", "title": "E (keV)", "labelExpr": "abs(datum.value/0.01 - round(datum.value/0.01)) < 0.001 ? datum.label : ''", "tickSize": {"condition": {"test": "abs(datum.value/0.01 - round(datum.value/0.01)) < 0.001", "value": -6}, "value": -3}}},
    "y": {"field": "y", "type": "quantitative", "scale": {"domain": [-0.1, 1.2], "nice": false}, "axis": {"orient": "left", "values": [0,0.1,0.2,0.3,0.4,0.5,0.6,0.7,0.8,0.9,1.0,1.1], "format": ".1f", "title": "Corrected Intensity (10³ counts/s)", "labelExpr": "abs(datum.value/0.2 - round(datum.value/0.2)) < 0.001 ? datum.label : ''", "tickSize": {"condition": {"test": "abs(datum.value/0.2 - round(datum.value/0.2)) < 0.001", "value": -6}, "value": -3}}}
   },
   "layer": [
    {"data": {"values": [{"x": 6.718, "y": -0.1, "y2": 1.2}]}, "mark": {"type": "rule", "color": "black", "strokeDash": [2, 3], "strokeWidth": 1.5}, "encoding": {"y2": {"field": "y2"}}},
    {"data": {"values": [{"x": 6.7, "x2": 6.738, "y": 0}]}, "mark": {"type": "rule", "color": "black", "strokeWidth": 1}, "encoding": {"x2": {"field": "x2"}}},
    {"data": {"values": [{"x":6.7,"y":-0.035},{"x":6.7043,"y":-0.01},{"x":6.706,"y":0.03},{"x":6.707,"y":0.07},{"x":6.708,"y":0.15},{"x":6.709,"y":0.3},{"x":6.710,"y":0.44},{"x":6.7104,"y":0.475},{"x":6.711,"y":0.42},{"x":6.712,"y":0.32},{"x":6.713,"y":0.25},{"x":6.714,"y":0.19},{"x":6.715,"y":0.14},{"x":6.716,"y":0.11},{"x":6.7165,"y":0.1},{"x":6.717,"y":0.11},{"x":6.718,"y":0.15},{"x":6.719,"y":0.195},{"x":6.720,"y":0.21},{"x":6.721,"y":0.2},{"x":6.722,"y":0.15},{"x":6.723,"y":0.09},{"x":6.724,"y":0.03},{"x":6.725,"y":-0.03},{"x":6.727,"y":-0.06},{"x":6.729,"y":-0.08},{"x":6.731,"y":-0.095},{"x":6.732,"y":-0.1},{"x":6.733,"y":-0.095},{"x":6.734,"y":-0.08},{"x":6.735,"y":-0.05},{"x":6.736,"y":-0.02},{"x":6.737,"y":0.01},{"x":6.738,"y":0.05}]}, "mark": {"type": "line", "color": "black", "strokeWidth": 1, "interpolate": "monotone", "clip": true}},
    {"data": {"values": [{"x":6.701,"y":-0.068,"e":0.018},{"x":6.7021,"y":0.027,"e":0.018},{"x":6.7032,"y":-0.009,"e":0.018},{"x":6.7043,"y":-0.054,"e":0.018},{"x":6.7052,"y":0.048,"e":0.018},{"x":6.7064,"y":0.032,"e":0.018},{"x":6.7071,"y":0.039,"e":0.018},{"x":6.708,"y":0.083,"e":0.018},{"x":6.7101,"y":0.347,"e":0.018},{"x":6.7104,"y":0.458,"e":0.018},{"x":6.7109,"y":0.412,"e":0.018},{"x":6.7122,"y":0.181,"e":0.018},{"x":6.7131,"y":0.181,"e":0.018},{"x":6.7143,"y":0.168,"e":0.018},{"x":6.7152,"y":0.07,"e":0.018},{"x":6.7161,"y":0.07,"e":0.018},{"x":6.7171,"y":0.093,"e":0.018},{"x":6.718,"y":0.14,"e":0.018},{"x":6.719,"y":0.207,"e":0.018},{"x":6.7201,"y":0.228,"e":0.018},{"x":6.7211,"y":0.207,"e":0.018},{"x":6.7221,"y":0.102,"e":0.018},{"x":6.723,"y":-0.014,"e":0.018},{"x":6.724,"y":0.116,"e":0.018},{"x":6.7251,"y":-0.045,"e":0.018},{"x":6.7272,"y":-0.004,"e":0.018},{"x":6.7281,"y":-0.036,"e":0.018},{"x":6.7293,"y":-0.086,"e":0.018},{"x":6.7301,"y":-0.089,"e":0.018},{"x":6.731,"y":-0.068,"e":0.018},{"x":6.7321,"y":-0.098,"e":0.018},{"x":6.7341,"y":-0.045,"e":0.018},{"x":6.7352,"y":0.036,"e":0.018},{"x":6.7373,"y":0.139,"e":0.018}]}, "layer": [
      {"mark": {"type": "errorbar", "color": "black"}, "encoding": {"yError": {"field": "e"}}},
      {"mark": {"type": "point", "shape": "circle", "filled": true, "color": "black", "size": 24}}
    ]},
    {"data": {"values": [{"x":6.7290,"x2":6.7348,"y":0.825}]}, "mark": {"type": "rule", "color": "black", "strokeWidth": 2.5}, "encoding": {"x2": {"field": "x2"}}},
    {"data": {"values": [{"x":6.7350,"y":0.825}]}, "mark": {"type": "point", "shape": "triangle-right", "filled": true, "color": "black", "size": 140}},
    {"data": {"values": [{"x":6.7022,"x2":6.7082,"y":0.426}]}, "mark": {"type": "rule", "color": "black", "strokeWidth": 2.5}, "encoding": {"x2": {"field": "x2"}}},
    {"data": {"values": [{"x":6.7020,"y":0.426}]}, "mark": {"type": "point", "shape": "triangle-left", "filled": true, "color": "black", "size": 140}},
    {"data": {"values": [{"x":6.7231,"x2":6.7285,"y":0.467}]}, "mark": {"type": "rule", "color": "#1e8c1e"}, "encoding": {"x2": {"field": "x2"}}},
    {"data": {"values": [{"x":6.7231,"x2":6.7285,"y":0.374}]}, "mark": {"type": "rule", "color": "#2040ff"}, "encoding": {"x2": {"field": "x2"}}},
    {"data": {"values": [{"x":6.7193,"x2":6.7246,"y":0.291}]}, "mark": {"type": "rule", "color": "black"}, "encoding": {"x2": {"field": "x2"}}},
    {"data": {"values": [{"x":6.7259,"y":0.467}]}, "mark": {"type": "point", "shape": "square", "filled": true, "color": "#1e8c1e", "size": 30}},
    {"data": {"values": [{"x":6.7259,"y":0.374}]}, "mark": {"type": "point", "shape": "square", "filled": true, "fill": "white", "stroke": "#2040ff", "size": 30}},
    {"data": {"values": [{"x":6.722,"y":0.291}]}, "mark": {"type": "point", "shape": "circle", "filled": true, "color": "black", "size": 30}},
    {"data": {"values": [{"x":6.7287,"y":0.467,"t":"I (2 K)"},{"x":6.7246,"y":0.291,"t":"I (2 K)"}]}, "mark": {"type": "text", "fontSize": 13.5, "align": "left", "baseline": "middle", "color": "#1e8c1e"}, "encoding": {"text": {"field": "t"}}},
    {"data": {"values": [{"x":6.7287,"y":0.374,"t":"I (6 K)"},{"x":6.7311,"y":0.291,"t":"I (6 K)"}]}, "mark": {"type": "text", "fontSize": 13.5, "align": "left", "baseline": "middle", "color": "#2040ff"}, "encoding": {"text": {"field": "t"}}},
    {"data": {"values": [{"x":6.7303,"y":0.291,"t":"-"}]}, "mark": {"type": "text", "fontSize": 13.5, "align": "left", "baseline": "middle", "color": "black"}, "encoding": {"text": {"field": "t"}}},
    {"data": {"values": [{"x":6.7236,"y":1.128,"t":"(-2 0 6)"},{"x":6.7236,"y":1.046,"t":"reflection"},{"x":6.7078,"y":0.584,"t":"quadrupole"}]}, "mark": {"type": "text", "fontSize": 14, "align": "center", "baseline": "middle", "color": "black"}, "encoding": {"text": {"field": "t"}}},
    {"data": {"values": [{"x":6.7236,"y":0.947,"t":"π→σ"}]}, "mark": {"type": "text", "fontSize": 11, "align": "center", "baseline": "middle", "color": "black"}, "encoding": {"text": {"field": "t"}}},
    {"data": {"values": [{"x":6.7341,"y":1.093,"t":"(e)"}]}, "mark": {"type": "text", "fontSize": 12.5, "fontWeight": "bold", "align": "center", "baseline": "middle", "color": "black"}, "encoding": {"text": {"field": "t"}}},
    {"data": {"values": [{"x":6.7101,"y":0.74,"t":"↑"}]}, "mark": {"type": "text", "fontSize": 22, "align": "center", "baseline": "middle", "color": "#2040ff"}, "encoding": {"text": {"field": "t"}}}
   ]
  },
  {
   "encoding": {
    "x": {"field": "x", "type": "quantitative", "scale": {"domain": [6.7, 6.738], "nice": false}, "axis": {"orient": "top", "values": [6.705,6.71,6.715,6.72,6.725,6.73,6.735], "labels": false, "title": null, "tickSize": {"condition": {"test": "abs(datum.value/0.01 - round(datum.value/0.01)) < 0.001", "value": -6}, "value": -3}}},
    "y": {"field": "y", "type": "quantitative", "scale": {"domain": [-15, 52.5], "nice": false}, "axis": {"orient": "right", "values": [-7.5,0,7.5,15,22.5,30,37.5,45], "format": ".0f", "title": "Intensity (10³ counts/s)", "titleAngle": -90, "titleBaseline": "top", "labelExpr": "abs(datum.value/15 - round(datum.value/15)) < 0.001 ? datum.label : ''", "tickSize": {"condition": {"test": "abs(datum.value/15 - round(datum.value/15)) < 0.001", "value": -6}, "value": -3}}}
   },
   "layer": [
    {"data": {"values": [{"x":6.7001,"y":48.0},{"x":6.701,"y":47.1},{"x":6.702,"y":46.4},{"x":6.7031,"y":44.8},{"x":6.7041,"y":44.4},{"x":6.7051,"y":42.5},{"x":6.7062,"y":41.9},{"x":6.7072,"y":40.0},{"x":6.7082,"y":36.2},{"x":6.709,"y":35.2},{"x":6.7102,"y":33.4},{"x":6.7111,"y":32.1},{"x":6.7123,"y":29.8},{"x":6.7134,"y":27.0},{"x":6.7143,"y":25.2},{"x":6.7153,"y":21.2},{"x":6.7162,"y":17.6},{"x":6.7171,"y":15.5},{"x":6.718,"y":14.4},{"x":6.719,"y":14.6},{"x":6.7201,"y":16.8},{"x":6.7211,"y":19.3},{"x":6.7221,"y":22.0},{"x":6.723,"y":24.3},{"x":6.724,"y":27.5},{"x":6.7249,"y":30.1},{"x":6.726,"y":32.3},{"x":6.727,"y":32.1},{"x":6.728,"y":32.1},{"x":6.7291,"y":31.0},{"x":6.7301,"y":29.5},{"x":6.731,"y":28.4},{"x":6.732,"y":28.2},{"x":6.733,"y":28.2},{"x":6.7341,"y":28.2},{"x":6.7352,"y":28.5},{"x":6.7363,"y":28.4},{"x":6.7373,"y":28.5}]}, "layer": [
      {"mark": {"type": "line", "color": "#2040ff", "strokeWidth": 1}},
      {"mark": {"type": "point", "shape": "square", "filled": true, "fill": "white", "stroke": "#2040ff", "size": 26, "strokeWidth": 1}}
    ]},
    {"data": {"values": [{"x":6.7001,"y":48.0},{"x":6.701,"y":47.1},{"x":6.702,"y":46.4},{"x":6.7031,"y":44.8},{"x":6.7041,"y":44.4},{"x":6.7051,"y":42.5},{"x":6.7062,"y":41.9},{"x":6.7072,"y":40.3},{"x":6.7082,"y":37.5},{"x":6.709,"y":38.3},{"x":6.7102,"y":35.5},{"x":6.7111,"y":33.9},{"x":6.7123,"y":31.0},{"x":6.7134,"y":28.4},{"x":6.7143,"y":25.5},{"x":6.7153,"y":21.6},{"x":6.7162,"y":17.9},{"x":6.7171,"y":15.7},{"x":6.718,"y":14.8},{"x":6.719,"y":14.9},{"x":6.7201,"y":16.8},{"x":6.7211,"y":19.3},{"x":6.7221,"y":22.0},{"x":6.723,"y":24.3},{"x":6.724,"y":27.5},{"x":6.7249,"y":30.1},{"x":6.726,"y":32.1},{"x":6.727,"y":32.1},{"x":6.728,"y":32.1},{"x":6.7291,"y":31.0},{"x":6.7301,"y":29.3},{"x":6.731,"y":28.4},{"x":6.732,"y":28.2},{"x":6.733,"y":28.2},{"x":6.7341,"y":28.2},{"x":6.7352,"y":28.4},{"x":6.7363,"y":28.4},{"x":6.7373,"y":28.9},{"x":6.738,"y":30.1}]}, "layer": [
      {"mark": {"type": "line", "color": "#1e8c1e", "strokeWidth": 1}},
      {"mark": {"type": "point", "shape": "square", "filled": true, "color": "#1e8c1e", "size": 26}}
    ]}
   ]
  }
 ]
},
{"width": 248, "height": 71, "data": {"values": [{"a": 1}]}, "mark": {"type": "text", "text": ""}, "encoding": {}},
{"width": 249, "height": 71, "data": {"values": [{"a": 1}]}, "mark": {"type": "text", "text": ""}, "encoding": {}},
{
 "width": 248, "height": 248,
 "title": {"text": "Fe K", "offset": 1, "dx": 8},
 "resolve": {"scale": {"y": "independent"}, "axis": {"x": "independent", "y": "independent"}},
 "layer": [
  {
   "encoding": {
    "x": {"field": "x", "type": "quantitative", "scale": {"domain": [7.09, 7.1253], "nice": false}, "axis": {"orient": "bottom", "values": [7.09,7.095,7.1,7.105,7.11,7.115,7.12,7.125], "format": ".2f", "title": "E (keV)", "labelPadding": 13, "labelExpr": "abs(datum.value/0.01 - round(datum.value/0.01)) < 0.001 ? datum.label : ''", "tickSize": {"condition": {"test": "abs(datum.value/0.01 - round(datum.value/0.01)) < 0.001", "value": -6}, "value": -3}}},
    "y": {"field": "y", "type": "quantitative", "scale": {"domain": [0, 210], "nice": false}, "axis": {"orient": "left", "values": [0,25,50,75,100,125,150,175,200], "title": "Corrected Intensity (counts/ 60s)", "labelExpr": "abs(datum.value/50 - round(datum.value/50)) < 0.001 ? datum.label : ''", "tickSize": {"condition": {"test": "abs(datum.value/50 - round(datum.value/50)) < 0.001", "value": -6}, "value": -3}}}
   },
   "layer": [
    {"data": {"values": [{"x": 7.1127, "y": 0, "y2": 210}]}, "mark": {"type": "rule", "color": "black", "strokeDash": [2, 3], "strokeWidth": 1.5}, "encoding": {"y2": {"field": "y2"}}},
    {"data": {"values": [{"x":7.0910,"y":11,"e":7},{"x":7.0915,"y":22,"e":7},{"x":7.0921,"y":21,"e":7},{"x":7.0929,"y":20,"e":7},{"x":7.0934,"y":24,"e":7},{"x":7.0939,"y":18,"e":7},{"x":7.0945,"y":27,"e":7},{"x":7.0951,"y":31,"e":7},{"x":7.0957,"y":22,"e":7},{"x":7.0963,"y":22,"e":7},{"x":7.0969,"y":24,"e":7},{"x":7.0975,"y":24,"e":7},{"x":7.0981,"y":29,"e":7},{"x":7.0987,"y":27,"e":7},{"x":7.0993,"y":24,"e":7},{"x":7.0998,"y":29,"e":7},{"x":7.1005,"y":22,"e":7},{"x":7.1010,"y":19,"e":7},{"x":7.1017,"y":27,"e":7},{"x":7.1022,"y":23,"e":7},{"x":7.1028,"y":21,"e":7},{"x":7.1034,"y":25,"e":7},{"x":7.1040,"y":19,"e":7},{"x":7.1046,"y":17,"e":7},{"x":7.1052,"y":34,"e":7},{"x":7.1058,"y":39,"e":7},{"x":7.1064,"y":38,"e":7},{"x":7.1070,"y":35,"e":7},{"x":7.1076,"y":41,"e":7},{"x":7.1082,"y":34,"e":7},{"x":7.1088,"y":34,"e":7},{"x":7.1094,"y":18,"e":7},{"x":7.1100,"y":36,"e":7},{"x":7.1106,"y":34,"e":7},{"x":7.1112,"y":36,"e":7},{"x":7.1117,"y":38,"e":7},{"x":7.1124,"y":32,"e":7},{"x":7.1129,"y":47,"e":7},{"x":7.1135,"y":38,"e":7},{"x":7.1141,"y":39,"e":7},{"x":7.1147,"y":35,"e":7},{"x":7.1153,"y":38,"e":7},{"x":7.1159,"y":34,"e":7},{"x":7.1165,"y":34,"e":7},{"x":7.1171,"y":38,"e":7},{"x":7.1177,"y":41,"e":7},{"x":7.1183,"y":37,"e":7},{"x":7.1189,"y":35,"e":7},{"x":7.1195,"y":38,"e":7},{"x":7.1201,"y":36,"e":7},{"x":7.1207,"y":32,"e":7},{"x":7.1213,"y":35,"e":7},{"x":7.1219,"y":32,"e":7},{"x":7.1224,"y":36,"e":7},{"x":7.1231,"y":32,"e":7},{"x":7.1236,"y":32,"e":7},{"x":7.1243,"y":29,"e":7},{"x":7.1248,"y":32,"e":7}]}, "layer": [
      {"mark": {"type": "errorbar", "color": "#333333"}, "encoding": {"yError": {"field": "e"}}},
      {"mark": {"type": "point", "shape": "circle", "filled": true, "fill": "white", "stroke": "#444444", "size": 18, "strokeWidth": 1}}
    ]},
    {"data": {"values": [{"x":7.0904,"y":33,"e":8},{"x":7.0912,"y":35,"e":8},{"x":7.0919,"y":30,"e":8},{"x":7.0927,"y":26,"e":8},{"x":7.0935,"y":32,"e":8},{"x":7.0943,"y":36,"e":8},{"x":7.0951,"y":30,"e":8},{"x":7.0958,"y":34,"e":8},{"x":7.0966,"y":31,"e":8},{"x":7.0974,"y":33,"e":8},{"x":7.0982,"y":45,"e":8},{"x":7.0989,"y":33,"e":8},{"x":7.0997,"y":30,"e":8},{"x":7.1005,"y":28,"e":8},{"x":7.1013,"y":31,"e":8},{"x":7.1021,"y":36,"e":8},{"x":7.1028,"y":34,"e":8},{"x":7.1036,"y":29,"e":8},{"x":7.1044,"y":41,"e":8},{"x":7.1052,"y":46,"e":8},{"x":7.1059,"y":52,"e":8},{"x":7.1067,"y":48,"e":8},{"x":7.1075,"y":47,"e":8},{"x":7.1082,"y":52,"e":8},{"x":7.1090,"y":45,"e":8},{"x":7.1098,"y":55,"e":8},{"x":7.1105,"y":48,"e":8},{"x":7.1113,"y":43,"e":8},{"x":7.1120,"y":50,"e":8},{"x":7.1128,"y":56,"e":8},{"x":7.1136,"y":47,"e":8},{"x":7.1143,"y":44,"e":8},{"x":7.1151,"y":58,"e":8},{"x":7.1159,"y":50,"e":8},{"x":7.1166,"y":44,"e":8},{"x":7.1174,"y":48,"e":8},{"x":7.1182,"y":52,"e":8},{"x":7.1189,"y":42,"e":8},{"x":7.1197,"y":40,"e":8},{"x":7.1205,"y":45,"e":8},{"x":7.1212,"y":38,"e":8},{"x":7.1220,"y":30,"e":8},{"x":7.1228,"y":45,"e":8},{"x":7.1235,"y":43,"e":8},{"x":7.1243,"y":37,"e":8},{"x":7.1250,"y":39,"e":8}]}, "layer": [
      {"mark": {"type": "errorbar", "color": "#2040ff"}, "encoding": {"yError": {"field": "e"}}},
      {"mark": {"type": "point", "shape": "square", "filled": true, "fill": "white", "stroke": "#2040ff", "size": 18, "strokeWidth": 1}}
    ]},
    {"data": {"values": [{"x":7.0903,"y":51,"e":10},{"x":7.0910,"y":54,"e":10},{"x":7.0915,"y":63,"e":10},{"x":7.0921,"y":48,"e":10},{"x":7.0929,"y":57,"e":10},{"x":7.0933,"y":51,"e":10},{"x":7.0938,"y":36,"e":10},{"x":7.0943,"y":55,"e":10},{"x":7.0949,"y":54,"e":10},{"x":7.0956,"y":53,"e":10},{"x":7.0963,"y":72,"e":10},{"x":7.0968,"y":38,"e":10},{"x":7.0974,"y":54,"e":10},{"x":7.0978,"y":49,"e":10},{"x":7.0985,"y":69,"e":10},{"x":7.0991,"y":50,"e":10},{"x":7.0998,"y":60,"e":10},{"x":7.1005,"y":56,"e":10},{"x":7.1014,"y":41,"e":10},{"x":7.1020,"y":67,"e":10},{"x":7.1026,"y":64,"e":10},{"x":7.1031,"y":51,"e":10},{"x":7.1037,"y":66,"e":10},{"x":7.1042,"y":69,"e":10},{"x":7.1047,"y":94,"e":11},{"x":7.1054,"y":86,"e":11},{"x":7.1058,"y":86,"e":11},{"x":7.1064,"y":132,"e":12},{"x":7.1070,"y":118,"e":12},{"x":7.1076,"y":107,"e":11},{"x":7.1082,"y":87,"e":11},{"x":7.1088,"y":56,"e":10},{"x":7.1095,"y":76,"e":10},{"x":7.1101,"y":97,"e":11},{"x":7.1106,"y":94,"e":11},{"x":7.1112,"y":73,"e":10},{"x":7.1119,"y":83,"e":10},{"x":7.1126,"y":97,"e":11},{"x":7.1132,"y":105,"e":11},{"x":7.1138,"y":116,"e":12},{"x":7.1145,"y":125,"e":12},{"x":7.1150,"y":126,"e":12},{"x":7.1156,"y":118,"e":12},{"x":7.1162,"y":112,"e":11},{"x":7.1169,"y":105,"e":11},{"x":7.1175,"y":100,"e":11},{"x":7.1182,"y":88,"e":11},{"x":7.1188,"y":76,"e":10},{"x":7.1194,"y":63,"e":10},{"x":7.1200,"y":55,"e":10},{"x":7.1204,"y":52,"e":10},{"x":7.1213,"y":65,"e":10},{"x":7.1219,"y":67,"e":10},{"x":7.1224,"y":46,"e":10},{"x":7.1231,"y":38,"e":10},{"x":7.1237,"y":32,"e":10},{"x":7.1242,"y":38,"e":10},{"x":7.1248,"y":45,"e":10}]}, "layer": [
      {"mark": {"type": "errorbar", "color": "black"}, "encoding": {"yError": {"field": "e"}}},
      {"mark": {"type": "point", "shape": "circle", "filled": true, "color": "black", "size": 24}}
    ]},
    {"data": {"values": [{"x":7.090,"y":54},{"x":7.095,"y":54},{"x":7.100,"y":55},{"x":7.102,"y":58},{"x":7.103,"y":62},{"x":7.104,"y":68},{"x":7.1047,"y":80},{"x":7.1055,"y":90},{"x":7.106,"y":110},{"x":7.1065,"y":125},{"x":7.107,"y":118},{"x":7.1075,"y":100},{"x":7.108,"y":75},{"x":7.1086,"y":52},{"x":7.109,"y":65},{"x":7.1096,"y":90},{"x":7.1101,"y":100},{"x":7.1106,"y":88},{"x":7.111,"y":72},{"x":7.1115,"y":70},{"x":7.112,"y":80},{"x":7.1127,"y":95},{"x":7.1133,"y":108},{"x":7.1138,"y":118},{"x":7.1145,"y":126},{"x":7.115,"y":127},{"x":7.1157,"y":120},{"x":7.1165,"y":110},{"x":7.1175,"y":98},{"x":7.1185,"y":82},{"x":7.1195,"y":65},{"x":7.1203,"y":57},{"x":7.121,"y":58},{"x":7.1218,"y":64},{"x":7.1225,"y":55},{"x":7.123,"y":42},{"x":7.1237,"y":35},{"x":7.1243,"y":37},{"x":7.1253,"y":45}]}, "mark": {"type": "line", "color": "black", "strokeWidth": 1, "interpolate": "monotone"}},
    {"data": {"values": [{"x":7.09,"x2":7.0952,"y":180}]}, "mark": {"type": "rule", "color": "black"}, "encoding": {"x2": {"field": "x2"}}},
    {"data": {"values": [{"x":7.0925,"y":180}]}, "mark": {"type": "point", "shape": "circle", "filled": true, "color": "black", "size": 30}},
    {"data": {"values": [{"x":7.0938,"y":165.5}]}, "mark": {"type": "point", "shape": "circle", "filled": true, "fill": "white", "stroke": "#444444", "size": 24}},
    {"data": {"values": [{"x":7.0938,"y":139.4}]}, "mark": {"type": "point", "shape": "square", "filled": true, "fill": "white", "stroke": "#2040ff", "size": 24}},
    {"data": {"values": [{"x":7.0929,"y":193.5,"t":"T = 55 K"},{"x":7.0929,"y":152.3,"t":"T = 112 K"}]}, "mark": {"type": "text", "fontSize": 14, "align": "left", "baseline": "middle", "color": "black"}, "encoding": {"text": {"field": "t"}}},
    {"data": {"values": [{"x":7.0955,"y":180,"t":"(1 0 6.5)"},{"x":7.0955,"y":165.5,"t":"(0.923 0.003 6.53)"},{"x":7.0955,"y":139.4,"t":"(1 0 6.5)"}]}, "mark": {"type": "text", "fontSize": 12.5, "align": "left", "baseline": "middle", "color": "black"}, "encoding": {"text": {"field": "t"}}},
    {"data": {"values": [{"x":7.1078,"y":188.8,"t":"σ→π"}]}, "mark": {"type": "text", "fontSize": 12, "align": "center", "baseline": "middle", "color": "black"}, "encoding": {"text": {"field": "t"}}},
    {"data": {"values": [{"x":7.1197,"y":178,"t":"(c)"}]}, "mark": {"type": "text", "fontSize": 12.5, "fontWeight": "bold", "align": "center", "baseline": "middle", "color": "black"}, "encoding": {"text": {"field": "t"}}},
    {"data": {"values": [{"x":7.1064,"y":149,"t":"↓"}]}, "mark": {"type": "text", "fontSize": 22, "align": "center", "baseline": "middle", "color": "black"}, "encoding": {"text": {"field": "t"}}}
   ]
  },
  {
   "encoding": {
    "x": {"field": "x", "type": "quantitative", "scale": {"domain": [7.09, 7.1253], "nice": false}, "axis": {"orient": "top", "values": [7.095,7.1,7.105,7.11,7.115,7.12,7.125], "labels": false, "title": null, "domainColor": "#1e8c1e", "tickColor": "#1e8c1e", "tickSize": {"condition": {"test": "abs(datum.value/0.01 - round(datum.value/0.01)) < 0.001", "value": -6}, "value": -3}}},
    "y": {"field": "y", "type": "quantitative", "scale": {"domain": [0.1335, 0.226], "nice": false}, "axis": {"orient": "right", "values": [0.14,0.15,0.16,0.17,0.18,0.19,0.2,0.21,0.22], "format": ".2f", "title": "Absorption Coefficient (μm⁻¹)", "titleAngle": -90, "titleBaseline": "top", "labelExpr": "abs(datum.value/0.02 - round(datum.value/0.02)) < 0.001 ? datum.label : ''", "tickSize": {"condition": {"test": "abs(datum.value/0.02 - round(datum.value/0.02)) < 0.001", "value": -6}, "value": -3}, "domainColor": "#1e8c1e", "tickColor": "#1e8c1e", "labelColor": "#1e8c1e", "titleColor": "#1e8c1e"}}
   },
   "layer": [
    {"data": {"values": [{"x":7.0902,"y":0.1866},{"x":7.0907,"y":0.1867},{"x":7.0912,"y":0.1868},{"x":7.0917,"y":0.1868},{"x":7.0922,"y":0.1869},{"x":7.0927,"y":0.187},{"x":7.0932,"y":0.187},{"x":7.0937,"y":0.1871},{"x":7.0942,"y":0.1872},{"x":7.0947,"y":0.1872},{"x":7.0952,"y":0.1873},{"x":7.0957,"y":0.1873},{"x":7.0962,"y":0.1874},{"x":7.0967,"y":0.1875},{"x":7.0972,"y":0.1875},{"x":7.0977,"y":0.1876},{"x":7.0982,"y":0.1876},{"x":7.0987,"y":0.1877},{"x":7.0992,"y":0.1878},{"x":7.0997,"y":0.1878},{"x":7.1002,"y":0.1879},{"x":7.1007,"y":0.188},{"x":7.1012,"y":0.1881},{"x":7.1017,"y":0.1882},{"x":7.1022,"y":0.1883},{"x":7.1027,"y":0.1884},{"x":7.1032,"y":0.1885},{"x":7.1037,"y":0.1888},{"x":7.1042,"y":0.1893},{"x":7.1047,"y":0.192},{"x":7.1052,"y":0.1965},{"x":7.1057,"y":0.1982},{"x":7.1062,"y":0.1986},{"x":7.1067,"y":0.1983},{"x":7.1072,"y":0.1979},{"x":7.1077,"y":0.198},{"x":7.1082,"y":0.199},{"x":7.1087,"y":0.2002},{"x":7.1092,"y":0.2018},{"x":7.1097,"y":0.2035},{"x":7.1102,"y":0.2045},{"x":7.1107,"y":0.2055},{"x":7.1112,"y":0.2062},{"x":7.1117,"y":0.207},{"x":7.1122,"y":0.2078},{"x":7.1127,"y":0.2085},{"x":7.1132,"y":0.2097},{"x":7.1137,"y":0.2112},{"x":7.1142,"y":0.2128},{"x":7.1147,"y":0.2145},{"x":7.1152,"y":0.2157},{"x":7.1157,"y":0.2164},{"x":7.1162,"y":0.2168},{"x":7.1167,"y":0.217},{"x":7.1172,"y":0.2173},{"x":7.1177,"y":0.2176},{"x":7.1182,"y":0.2179},{"x":7.1187,"y":0.2183},{"x":7.1192,"y":0.2188},{"x":7.1197,"y":0.2193},{"x":7.1202,"y":0.2198},{"x":7.1207,"y":0.2202},{"x":7.1212,"y":0.2205},{"x":7.1217,"y":0.2209},{"x":7.1222,"y":0.2212},{"x":7.1227,"y":0.2216},{"x":7.1232,"y":0.2219},{"x":7.1237,"y":0.222},{"x":7.1242,"y":0.2215},{"x":7.1247,"y":0.2208},{"x":7.1252,"y":0.2202}]}, "mark": {"type": "point", "shape": "circle", "filled": true, "color": "#1e8c1e", "size": 16}}
   ]
  }
 ]
},
{
 "width": 249, "height": 248,
 "resolve": {"scale": {"y": "independent"}, "axis": {"x": "independent", "y": "independent"}},
 "layer": [
  {
   "encoding": {
    "x": {"field": "x", "type": "quantitative", "scale": {"domain": [1, 14], "nice": false}, "axis": {"orient": "bottom", "values": [2,3,4,5,6,7,8,9,10,11,12,13,14], "title": "Temperature T (K)", "labelExpr": "abs(datum.value/2 - round(datum.value/2)) < 0.001 ? datum.label : ''", "tickSize": {"condition": {"test": "abs(datum.value/2 - round(datum.value/2)) < 0.001", "value": -6}, "value": -3}}},
    "y": {"field": "y", "type": "quantitative", "scale": {"domain": [1.994, 2.16], "nice": false}, "axis": {"orient": "left", "values": [2.0,2.02,2.04,2.06,2.08,2.1,2.12,2.14,2.16], "format": ".2f", "title": "Int. Intensity (arb. units)", "labelExpr": "abs(datum.value/0.04 - round(datum.value/0.04)) < 0.001 ? datum.label : ''", "tickSize": {"condition": {"test": "abs(datum.value/0.04 - round(datum.value/0.04)) < 0.001", "value": -6}, "value": -3}}}
   },
   "layer": [
    {"data": {"values": [{"x":1.96,"y":2.0242,"e":0.008},{"x":2.47,"y":2.0225,"e":0.008},{"x":3.01,"y":2.0298,"e":0.008},{"x":3.5,"y":2.0217,"e":0.008},{"x":4.0,"y":2.019,"e":0.008},{"x":4.48,"y":2.0112,"e":0.008},{"x":4.97,"y":2.0201,"e":0.008},{"x":5.46,"y":2.0141,"e":0.008},{"x":5.97,"y":1.9978,"e":0.01}]}, "layer": [
      {"mark": {"type": "errorbar", "color": "#2040ff"}, "encoding": {"yError": {"field": "e"}}},
      {"mark": {"type": "point", "shape": "circle", "filled": true, "fill": "white", "stroke": "#6a7cff", "size": 26}}
    ]},
    {"data": {"values": [{"x":1.91,"y":2.0163,"e":0.01},{"x":2.47,"y":2.0235,"e":0.01},{"x":3.0,"y":2.0235,"e":0.01},{"x":3.5,"y":2.0235,"e":0.01},{"x":3.75,"y":2.0273,"e":0.01},{"x":4.22,"y":2.0213,"e":0.01},{"x":4.71,"y":2.027,"e":0.01},{"x":5.23,"y":2.025,"e":0.01},{"x":5.7,"y":2.025,"e":0.01},{"x":6.45,"y":2.0164,"e":0.01},{"x":6.98,"y":2.0164,"e":0.01},{"x":7.98,"y":2.0206,"e":0.01}]}, "layer": [
      {"mark": {"type": "errorbar", "color": "#333333"}, "encoding": {"yError": {"field": "e"}}},
      {"mark": {"type": "point", "shape": "square", "filled": true, "fill": "white", "stroke": "#555555", "size": 22}}
    ]},
    {"data": {"values": [{"x":1.0,"x2":8.4,"y":2.0184}]}, "mark": {"type": "rule", "color": "black", "strokeWidth": 2}, "encoding": {"x2": {"field": "x2"}}},
    {"data": {"values": [{"x":1.9,"y":2.129},{"x":2.3,"y":2.1305},{"x":2.8,"y":2.131},{"x":3.3,"y":2.1305},{"x":3.6,"y":2.128},{"x":3.8,"y":2.124},{"x":4.0,"y":2.116},{"x":4.2,"y":2.104},{"x":4.4,"y":2.088},{"x":4.6,"y":2.068},{"x":4.8,"y":2.048},{"x":4.95,"y":2.036},{"x":5.1,"y":2.03},{"x":5.4,"y":2.027},{"x":5.8,"y":2.025},{"x":6.3,"y":2.022},{"x":7.0,"y":2.0195},{"x":8.0,"y":2.0185}]}, "mark": {"type": "line", "color": "black", "strokeWidth": 1, "interpolate": "monotone"}},
    {"data": {"values": [{"x":1.91,"y":2.1285,"e":0.004},{"x":2.43,"y":2.1313,"e":0.005},{"x":3.01,"y":2.1313,"e":0.005},{"x":3.66,"y":2.129,"e":0.005},{"x":4.01,"y":2.1052,"e":0.005},{"x":4.22,"y":2.0978,"e":0.005},{"x":4.48,"y":2.085,"e":0.005},{"x":4.74,"y":2.0593,"e":0.005},{"x":4.97,"y":2.0302,"e":0.008},{"x":5.23,"y":2.0291,"e":0.008},{"x":5.48,"y":2.0284,"e":0.008},{"x":5.7,"y":2.028,"e":0.008},{"x":5.97,"y":2.0242,"e":0.008},{"x":6.98,"y":2.0175,"e":0.008}]}, "layer": [
      {"mark": {"type": "errorbar", "color": "black"}, "encoding": {"yError": {"field": "e"}}},
      {"mark": {"type": "point", "shape": "square", "filled": true, "color": "black", "size": 22}}
    ]},
    {"data": {"values": [{"x":1.96,"y":2.1168,"e":0.005},{"x":2.43,"y":2.1327,"e":0.005},{"x":3.01,"y":2.132,"e":0.005},{"x":3.48,"y":2.1253,"e":0.005},{"x":3.97,"y":2.1108,"e":0.005},{"x":4.48,"y":2.0933,"e":0.006},{"x":5.02,"y":2.0056,"e":0.006},{"x":5.97,"y":2.0128,"e":0.006},{"x":6.49,"y":2.0074,"e":0.006}]}, "layer": [
      {"mark": {"type": "errorbar", "color": "#2040ff"}, "encoding": {"yError": {"field": "e"}}},
      {"mark": {"type": "point", "shape": "circle", "filled": true, "color": "#2040ff", "size": 26}}
    ]},
    {"data": {"values": [{"x":2.45,"x2":4.27,"y":2.0806}]}, "mark": {"type": "rule", "color": "black"}, "encoding": {"x2": {"field": "x2"}}},
    {"data": {"values": [{"x":2.4,"y":2.0806}]}, "mark": {"type": "point", "shape": "triangle-left", "filled": true, "color": "black", "size": 45}},
    {"data": {"values": [{"x":8.03,"y":2.1387}]}, "mark": {"type": "point", "shape": "circle", "filled": true, "color": "#2040ff", "size": 30}},
    {"data": {"values": [{"x":8.03,"y":2.1276}]}, "mark": {"type": "point", "shape": "circle", "filled": true, "fill": "white", "stroke": "#6a7cff", "size": 30}},
    {"data": {"values": [{"x":8.03,"y":2.1047}]}, "mark": {"type": "point", "shape": "square", "filled": true, "color": "black", "size": 26}},
    {"data": {"values": [{"x":8.03,"y":2.0929}]}, "mark": {"type": "point", "shape": "square", "filled": true, "fill": "white", "stroke": "#555555", "size": 26}},
    {"data": {"values": [{"x":7.07,"y":2.0108}]}, "mark": {"type": "point", "shape": "triangle-down", "filled": true, "color": "#1e8c1e", "size": 30}},
    {"data": {"values": [{"x":7.07,"y":2.0020}]}, "mark": {"type": "point", "shape": "triangle-up", "filled": true, "color": "#ff1a1a", "size": 30}},
    {"data": {"values": [{"x":13.62,"y":2.1522,"t":"quadrupole (Sm L₃)"}]}, "mark": {"type": "text", "fontSize": 14, "align": "right", "baseline": "middle", "color": "#2040ff"}, "encoding": {"text": {"field": "t"}}},
    {"data": {"values": [{"x":9.08,"y":2.1387,"t":"I (O-R)"},{"x":9.08,"y":2.1276,"t":"I (O-R)"}]}, "mark": {"type": "text", "fontSize": 14, "align": "left", "baseline": "middle", "color": "#2040ff"}, "encoding": {"text": {"field": "t"}}},
    {"data": {"values": [{"x":7.33,"y":2.1141,"t":"dipole (Sm L₂)"},{"x":8.55,"y":2.1047,"t":"5×I (R)"},{"x":8.55,"y":2.0929,"t":"5×I (O-R)"},{"x":9.35,"y":2.024,"t":"Sm L₃"}]}, "mark": {"type": "text", "fontSize": 14, "align": "left", "baseline": "middle", "color": "black"}, "encoding": {"text": {"field": "t"}}},
    {"data": {"values": [{"x":8.12,"y":2.0108,"t":"I (dipole)"}]}, "mark": {"type": "text", "fontSize": 12.5, "align": "left", "baseline": "middle", "color": "#1e8c1e"}, "encoding": {"text": {"field": "t"}}},
    {"data": {"values": [{"x":8.12,"y":2.0020,"t":"7×I (quadrupole)"}]}, "mark": {"type": "text", "fontSize": 12.5, "align": "left", "baseline": "middle", "color": "#ff1a1a"}, "encoding": {"text": {"field": "t"}}},
    {"data": {"values": [{"x":12.22,"y":2.1734,"t":"(f)"}]}, "mark": {"type": "text", "fontSize": 12.5, "fontWeight": "bold", "align": "center", "baseline": "middle", "color": "black"}, "encoding": {"text": {"field": "t"}}}
   ]
  },
  {
   "encoding": {
    "x": {"field": "x", "type": "quantitative", "scale": {"domain": [1, 14], "nice": false}, "axis": {"orient": "top", "values": [2,3,4,5,6,7,8,9,10,11,12,13,14], "labels": false, "title": null, "tickSize": {"condition": {"test": "abs(datum.value/2 - round(datum.value/2)) < 0.001", "value": -6}, "value": -3}}},
    "y": {"field": "y", "type": "quantitative", "scale": {"domain": [-2.1, 21], "nice": false}, "axis": {"orient": "right", "values": [-2,0,2,4,6,8,10,12,14,16,18,20], "title": "Peak Intensity I (arb. units)", "titleAngle": -90, "titleBaseline": "top", "labelExpr": "abs(datum.value/4 - round(datum.value/4)) < 0.001 ? datum.label : ''", "tickSize": {"condition": {"test": "abs(datum.value/4 - round(datum.value/4)) < 0.001", "value": -6}, "value": -3}}}
   },
   "layer": [
    {"data": {"values": [{"x":1.5,"y":2.2,"e":2},{"x":1.95,"y":1.4,"e":2},{"x":2.45,"y":2.2,"e":2},{"x":2.95,"y":1.2,"e":2},{"x":3.45,"y":1.4,"e":2},{"x":3.95,"y":2.0,"e":2},{"x":4.2,"y":2.8,"e":2},{"x":4.45,"y":4.0,"e":2},{"x":4.7,"y":6.3,"e":2.5},{"x":4.97,"y":16.0,"e":3},{"x":5.45,"y":14.7,"e":2.5},{"x":5.97,"y":13.6,"e":2.5},{"x":6.5,"y":12.5,"e":2.5},{"x":7.0,"y":11.6,"e":2.5},{"x":7.47,"y":10.9,"e":2.5},{"x":8.2,"y":9.6,"e":2.5},{"x":9.72,"y":6.1,"e":2.5},{"x":10.5,"y":5.2,"e":2.5},{"x":11.7,"y":2.7,"e":1.8},{"x":12.75,"y":2.3,"e":1.5},{"x":13.4,"y":2.3,"e":1.5},{"x":13.9,"y":1.5,"e":1.5}]}, "layer": [
      {"mark": {"type": "errorbar", "color": "#ff5a5a", "thickness": 1.5}, "encoding": {"yError": {"field": "e"}}},
      {"mark": {"type": "point", "shape": "triangle-up", "filled": true, "color": "#ff1a1a", "size": 26}}
    ]},
    {"data": {"values": [{"x":1.75,"y":0.9,"e":0.8},{"x":1.85,"y":0.6,"e":0.6},{"x":1.95,"y":0.4,"e":0.5},{"x":2.05,"y":0.5,"e":0.5},{"x":2.15,"y":0.3,"e":0.5},{"x":2.25,"y":0.3,"e":0.5},{"x":2.35,"y":0.4,"e":0.5},{"x":2.45,"y":0.3,"e":0.5},{"x":2.55,"y":0.35,"e":0.5},{"x":2.65,"y":0.4,"e":0.5},{"x":2.75,"y":0.5,"e":0.5},{"x":2.85,"y":0.5,"e":0.5},{"x":2.95,"y":0.55,"e":0.5},{"x":3.05,"y":0.6,"e":0.5},{"x":3.15,"y":0.65,"e":0.5},{"x":3.25,"y":0.7,"e":0.5},{"x":3.35,"y":0.75,"e":0.5},{"x":3.45,"y":0.85,"e":0.5},{"x":3.55,"y":0.9,"e":0.5},{"x":3.65,"y":1.0,"e":0.5},{"x":3.75,"y":1.1,"e":0.5},{"x":3.85,"y":1.3,"e":0.6},{"x":3.95,"y":1.6,"e":0.6},{"x":4.05,"y":2.0,"e":0.7},{"x":4.15,"y":2.5,"e":0.7},{"x":4.25,"y":3.0,"e":0.8},{"x":4.35,"y":3.7,"e":0.8},{"x":4.45,"y":4.6,"e":0.9},{"x":4.55,"y":5.7,"e":1},{"x":4.65,"y":7.0,"e":1},{"x":4.75,"y":8.5,"e":1.1},{"x":4.85,"y":10.0,"e":1.2},{"x":4.95,"y":11.5,"e":1.3},{"x":5.05,"y":12.8,"e":1.4},{"x":5.15,"y":14.2,"e":1.5},{"x":5.3,"y":15.5,"e":1.5},{"x":5.45,"y":15.9,"e":1.5},{"x":5.6,"y":14.4,"e":1.5},{"x":5.75,"y":14.6,"e":1.5},{"x":5.9,"y":13.9,"e":1.4},{"x":6.1,"y":13.2,"e":1.4},{"x":6.3,"y":12.3,"e":1.3},{"x":6.5,"y":11.7,"e":1.3},{"x":6.7,"y":11.1,"e":1.2},{"x":7.0,"y":10.4,"e":1.2},{"x":7.25,"y":9.8,"e":1.2},{"x":7.5,"y":9.3,"e":1.1},{"x":7.75,"y":8.8,"e":1.1},{"x":8.0,"y":8.4,"e":1.1},{"x":8.25,"y":7.9,"e":1},{"x":8.5,"y":7.4,"e":1},{"x":8.75,"y":7.0,"e":1},{"x":9.0,"y":6.9,"e":1},{"x":9.25,"y":6.5,"e":1},{"x":9.5,"y":6.1,"e":1},{"x":9.75,"y":5.7,"e":1},{"x":10.0,"y":5.4,"e":1},{"x":10.25,"y":5.0,"e":0.9},{"x":10.5,"y":4.7,"e":0.9},{"x":10.75,"y":4.4,"e":0.9},{"x":11.0,"y":4.1,"e":0.9},{"x":11.25,"y":3.9,"e":0.9},{"x":11.5,"y":3.6,"e":0.9},{"x":11.75,"y":3.4,"e":0.8},{"x":12.0,"y":3.2,"e":0.8},{"x":12.25,"y":3.0,"e":0.8},{"x":12.5,"y":2.8,"e":0.8},{"x":12.75,"y":2.7,"e":0.8},{"x":13.0,"y":2.5,"e":0.8},{"x":13.25,"y":2.4,"e":0.8},{"x":13.5,"y":2.2,"e":0.8},{"x":13.75,"y":2.1,"e":0.8},{"x":14.0,"y":1.9,"e":0.8}]}, "layer": [
      {"mark": {"type": "errorbar", "color": "#2ea82e", "thickness": 1}, "encoding": {"yError": {"field": "e"}}},
      {"mark": {"type": "point", "shape": "triangle-down", "filled": true, "color": "#1e8c1e", "size": 26}}
    ]},
    {"data": {"values": [{"x":1.8,"y":0.6},{"x":2.0,"y":0.35},{"x":2.5,"y":0.35},{"x":3.0,"y":0.55},{"x":3.5,"y":0.85},{"x":3.8,"y":1.15},{"x":4.0,"y":1.6},{"x":4.2,"y":2.5},{"x":4.4,"y":4.0},{"x":4.6,"y":6.3},{"x":4.8,"y":9.2},{"x":5.0,"y":12.2},{"x":5.15,"y":14.3},{"x":5.3,"y":15.3},{"x":5.45,"y":15.2},{"x":5.7,"y":14.5},{"x":6.0,"y":13.5},{"x":6.5,"y":12.0},{"x":7.0,"y":10.8},{"x":7.5,"y":9.9},{"x":8.0,"y":9.1},{"x":8.5,"y":8.5},{"x":9.0,"y":7.9},{"x":9.5,"y":7.2},{"x":10.0,"y":6.5},{"x":10.5,"y":5.9},{"x":11.0,"y":5.3},{"x":11.5,"y":4.8},{"x":12.0,"y":4.3},{"x":12.5,"y":3.85},{"x":13.0,"y":3.45},{"x":13.5,"y":3.1},{"x":14.0,"y":2.8}]}, "mark": {"type": "line", "color": "#1e8c1e", "strokeWidth": 1.5, "interpolate": "monotone"}},
    {"data": {"values": [{"x":10.3,"x2":12.1,"y":6.0}]}, "mark": {"type": "rule", "color": "black"}, "encoding": {"x2": {"field": "x2"}}},
    {"data": {"values": [{"x":12.2,"y":6.0}]}, "mark": {"type": "point", "shape": "triangle-right", "filled": true, "color": "black", "size": 45}}
   ]
  }
 ]
}
]
}
